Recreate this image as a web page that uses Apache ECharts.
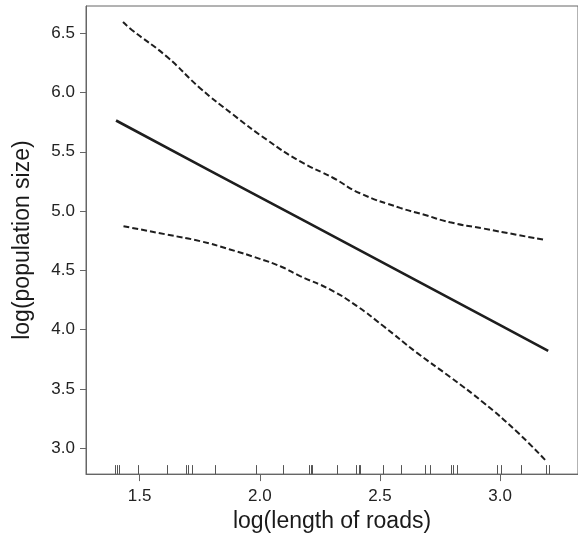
<!DOCTYPE html>
<html>
<head>
<meta charset="utf-8">
<script src="https://cdn.jsdelivr.net/npm/echarts@6/dist/echarts.min.js"></script>
<style>html,body{margin:0;padding:0;background:#fff}#c{width:578px;height:538px}</style>
</head>
<body>
<div id="c"></div>
<script>
var xTicks = [1.5, 2.0, 2.5, 3.0];
var yTicks = [3.0, 3.5, 4.0, 4.5, 5.0, 5.5, 6.0, 6.5];

var fitX = [1.402, 1.8, 2.2, 2.6, 3.0, 3.200];
var fitY = [5.764, 5.333, 4.902, 4.470, 4.037, 3.820];

var upperX = [1.431, 1.468, 1.613, 1.752, 1.890, 2.029, 2.168, 2.306, 2.417, 2.584, 2.681, 2.792, 2.930, 3.069, 3.190];
var upperY = [6.595, 6.528, 6.303, 6.037, 5.812, 5.602, 5.419, 5.279, 5.150, 5.027, 4.971, 4.905, 4.853, 4.800, 4.755];

var lowerX = [1.433, 1.613, 1.752, 1.876, 2.000, 2.090, 2.168, 2.292, 2.403, 2.514, 2.653, 2.792, 2.930, 3.069, 3.190];
var lowerY = [4.872, 4.802, 4.746, 4.676, 4.597, 4.530, 4.451, 4.339, 4.200, 4.030, 3.806, 3.600, 3.385, 3.140, 2.895];

var rugX = [1.398, 1.408, 1.416, 1.495, 1.613, 1.693, 1.700, 1.717, 1.814, 1.985, 2.096, 2.206, 2.212, 2.219, 2.320,
            2.399, 2.413, 2.418, 2.514, 2.588, 2.688, 2.709, 2.796, 2.803, 2.819, 2.986, 3.004, 3.087, 3.191, 3.205];

var X_MIN = 1.277, X_MAX = 3.324, Y_MIN = 2.781, Y_MAX = 6.730;

function zip(a, b) { return a.map(function (v, i) { return [v, b[i]]; }); }

var chart = echarts.init(document.getElementById('c'), null, {renderer: 'canvas'});
var font = 'Liberation Sans, Arial, Helvetica, sans-serif';
chart.setOption({
  animation: false,
  backgroundColor: '#fff',
  grid: {left: 86, right: -2, top: 6, bottom: 63, show: true, borderColor: '#666', borderWidth: 1, backgroundColor: 'transparent'},
  xAxis: {
    type: 'value', min: X_MIN, max: X_MAX,
    name: 'log(length of roads)', nameLocation: 'middle', nameGap: 31,
    nameTextStyle: {fontFamily: font, fontSize: 23, color: '#1a1a1a'},
    axisLine: {show: true, lineStyle: {color: '#666', width: 1}},
    axisTick: {show: true, length: 7, lineStyle: {color: '#666'}, customValues: xTicks},
    axisLabel: {fontFamily: font, fontSize: 17, color: '#222', margin: 14, customValues: xTicks,
      formatter: function (v) { return v.toFixed(1); }},
    splitLine: {show: false}
  },
  yAxis: {
    type: 'value', min: Y_MIN, max: Y_MAX,
    name: 'log(population size)', nameLocation: 'middle', nameGap: 52,
    nameTextStyle: {fontFamily: font, fontSize: 23, color: '#1a1a1a'},
    axisLine: {show: true, lineStyle: {color: '#666', width: 1}},
    axisTick: {show: true, length: 6, lineStyle: {color: '#666'}, customValues: yTicks},
    axisLabel: {fontFamily: font, fontSize: 17, color: '#222', margin: 11, customValues: yTicks,
      formatter: function (v) { return v.toFixed(1); }},
    splitLine: {show: false}
  },
  series: [
    {type: 'line', data: zip(fitX, fitY), showSymbol: false, symbol: 'none',
      lineStyle: {color: '#1e1e1e', width: 2.6}},
    {type: 'line', data: zip(upperX, upperY), showSymbol: false, symbol: 'none', smooth: 0.5,
      lineStyle: {color: '#1e1e1e', width: 2, type: [6, 3]}},
    {type: 'line', data: zip(lowerX, lowerY), showSymbol: false, symbol: 'none', smooth: 0.5,
      lineStyle: {color: '#1e1e1e', width: 2, type: [6, 3]}},
    {type: 'custom', data: rugX.map(function (v) { return [v]; }),
      renderItem: function (params, api) {
        var p = api.coord([api.value(0), Y_MIN]);
        return {type: 'line', shape: {x1: Math.round(p[0]) + 0.5, y1: p[1], x2: Math.round(p[0]) + 0.5, y2: p[1] - 9},
          style: {stroke: '#555', lineWidth: 1}};
      }}
  ]
});
</script>
</body>
</html>
